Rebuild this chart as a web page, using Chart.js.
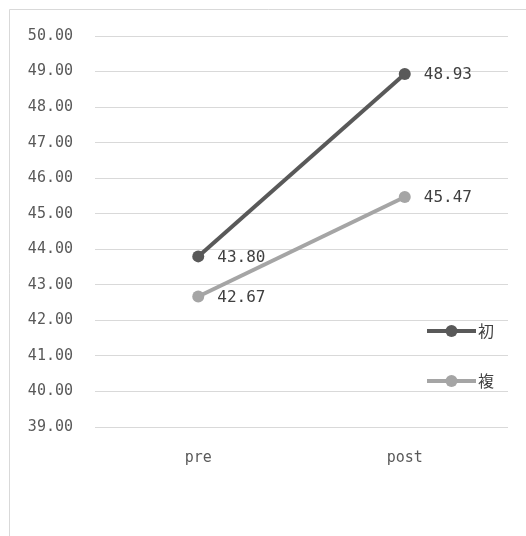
<!DOCTYPE html>
<html>
<head>
<meta charset="utf-8">
<script src="https://cdn.jsdelivr.net/npm/chart.js@4/dist/chart.umd.min.js"></script>
<style>
  html, body { margin: 0; padding: 0; background: #fff; }
  #wrap { position: relative; width: 526px; height: 536px; }
</style>
</head>
<body>
<div id="wrap"><canvas id="c" width="526" height="536"></canvas></div>
<script>
const categories = ['pre', 'post'];
const seriesNames = ['初', '複'];
const seriesA = [43.80, 48.93];
const seriesB = [42.67, 45.47];
const yMin = 39, yMax = 50, yStep = 1;

const MONO = '"DejaVu Sans Mono", monospace';

const frame = {
  id: 'frame',
  beforeDraw(chart) {
    const ctx = chart.ctx;
    ctx.save();
    ctx.fillStyle = '#fff';
    ctx.fillRect(0, 0, chart.width, chart.height);
    ctx.strokeStyle = '#d9d9d9';
    ctx.lineWidth = 1;
    ctx.beginPath();
    ctx.moveTo(9.5, chart.height + 2);
    ctx.lineTo(9.5, 9.5);
    ctx.lineTo(chart.width + 2, 9.5);
    ctx.stroke();
    ctx.restore();
  }
};

const valueLabels = {
  id: 'valueLabels',
  afterDatasetsDraw(chart) {
    const ctx = chart.ctx;
    ctx.save();
    ctx.font = '16px ' + MONO;
    ctx.fillStyle = '#404040';
    ctx.textAlign = 'left';
    ctx.textBaseline = 'middle';
    chart.data.datasets.forEach((ds, i) => {
      const meta = chart.getDatasetMeta(i);
      meta.data.forEach((pt, j) => {
        ctx.fillText(ds.data[j].toFixed(2), pt.x + 19, pt.y + 1);
      });
    });
    ctx.restore();
  }
};

const innerLegend = {
  id: 'innerLegend',
  afterDraw(chart) {
    const ctx = chart.ctx;
    const area = chart.chartArea;
    const y0 = chart.scales.y;
    ctx.save();
    chart.data.datasets.forEach((ds, i) => {
      const cy = Math.round(y0.getPixelForValue(41.7 - i * 1.4));
      const x1 = area.right - 81, x2 = area.right - 32;
      ctx.strokeStyle = ds.borderColor;
      ctx.lineWidth = ds.borderWidth;
      ctx.beginPath();
      ctx.moveTo(x1, cy);
      ctx.lineTo(x2, cy);
      ctx.stroke();
      ctx.fillStyle = ds.pointBackgroundColor;
      ctx.beginPath();
      ctx.arc((x1 + x2) / 2, cy, ds.pointRadius, 0, Math.PI * 2);
      ctx.fill();
      ctx.fillStyle = '#404040';
      ctx.font = '16px "Noto Sans CJK JP", "Noto Sans CJK SC", sans-serif';
      ctx.textAlign = 'left';
      ctx.textBaseline = 'middle';
      ctx.fillText(ds.label, x2 + 2, cy);
    });
    ctx.restore();
  }
};

new Chart(document.getElementById('c'), {
  type: 'line',
  data: {
    labels: categories,
    datasets: [
      {
        label: seriesNames[0], data: seriesA,
        borderColor: '#595959', backgroundColor: '#595959',
        pointBackgroundColor: '#595959', pointBorderColor: '#595959',
        borderWidth: 4, pointRadius: 6, pointHoverRadius: 6, pointBorderWidth: 0
      },
      {
        label: seriesNames[1], data: seriesB,
        borderColor: '#a5a5a5', backgroundColor: '#a5a5a5',
        pointBackgroundColor: '#a5a5a5', pointBorderColor: '#a5a5a5',
        borderWidth: 4, pointRadius: 6, pointHoverRadius: 6, pointBorderWidth: 0
      }
    ]
  },
  options: {
    responsive: false,
    animation: false,
    layout: { padding: { left: 10, top: 36, right: 18, bottom: 0 } },
    plugins: { legend: { display: false }, tooltip: { enabled: false } },
    scales: {
      x: {
        offset: true,
        grid: { display: false, drawTicks: false },
        border: { display: false },
        ticks: { color: '#595959', font: { family: MONO, size: 15 }, padding: 22 },
        afterFit(scale) { scale.height = 109; }
      },
      y: {
        min: yMin, max: yMax,
        grid: { color: '#d9d9d9', lineWidth: 1, drawTicks: false },
        border: { display: false },
        ticks: {
          stepSize: yStep, color: '#595959', padding: 22,
          font: { family: MONO, size: 15 },
          callback: v => Number(v).toFixed(2)
        },
        afterFit(scale) { scale.width = 85; }
      }
    }
  },
  plugins: [frame, valueLabels, innerLegend]
});
</script>
</body>
</html>
